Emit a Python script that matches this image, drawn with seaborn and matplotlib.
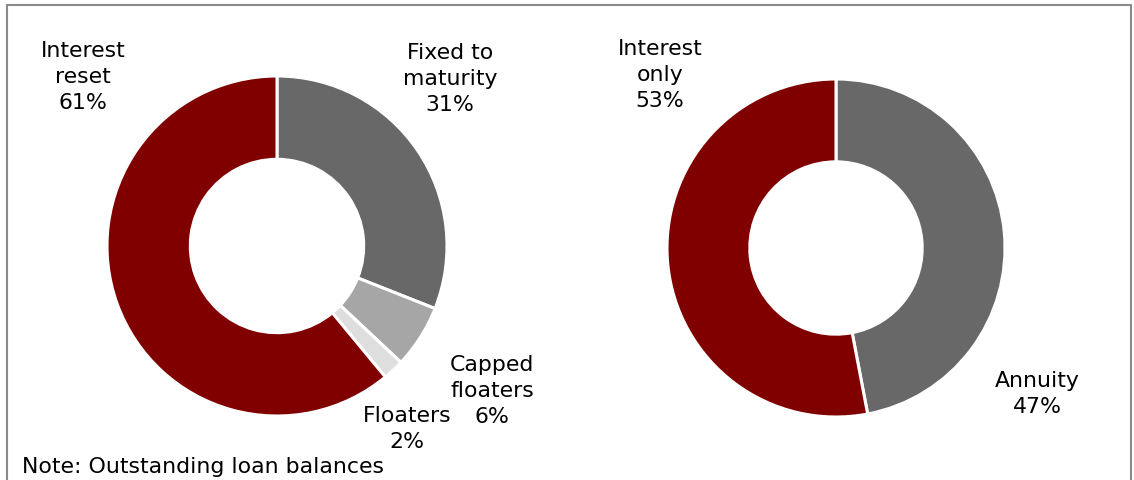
import matplotlib
matplotlib.use("Agg")
import matplotlib.pyplot as plt
import seaborn as sns
from matplotlib.lines import Line2D

sns.set_theme(style="white")
plt.rcParams['font.family'] = ['DejaVu Sans']

# left donut: loan type by interest rate
rate_labels = ["Fixed to\nmaturity", "Capped\nfloaters", "Floaters", "Interest\nreset"]
rate_values = [31, 6, 2, 61]
rate_colors = ["#686868", "#a6a6a6", "#dedede", "#800000"]

# right donut: repayment profile
repay_labels = ["Annuity", "Interest\nonly"]
repay_values = [47, 53]
repay_colors = ["#686868", "#800000"]

note = "Note: Outstanding loan balances"

W, H = 1134, 481
fig = plt.figure(figsize=(W / 100, H / 100), dpi=100)
fig.patch.set_facecolor("white")


def donut_axes(cx, cy, r):
    # axes in pixel coordinates (top-left origin) converted to figure fractions
    return fig.add_axes([(cx - r) / W, (H - cy - r) / H, 2 * r / W, 2 * r / H])


def draw_donut(ax, values, colors):
    ax.pie(values, colors=colors, startangle=90, counterclock=False,
           radius=1.0, wedgeprops=dict(width=0.49, edgecolor="white", linewidth=2.2))
    ax.set_xlim(-1, 1)
    ax.set_ylim(-1, 1)
    ax.set_aspect("equal")
    ax.axis("off")


ax1 = donut_axes(277, 247, 170)
draw_donut(ax1, rate_values, rate_colors)

ax2 = donut_axes(836, 249, 169)
draw_donut(ax2, repay_values, repay_colors)


def px_text(x, y, s, **kw):
    fig.text(x / W, 1 - y / H, s, fontsize=15.8, color="black",
             linespacing=1.36, **kw)


# label positions (pixel centres)
rate_pos = [(450, 79), (492, 391), (407, 429), (83, 77)]
for (x, y), lab, v in zip(rate_pos, rate_labels, rate_values):
    px_text(x, y, f"{lab}\n{v}%", ha="center", va="center")

repay_pos = [(1037, 394), (660, 75)]
for (x, y), lab, v in zip(repay_pos, repay_labels, repay_values):
    px_text(x, y, f"{lab}\n{v}%", ha="center", va="center")

px_text(22, 467, note, ha="left", va="center")

# grey frame (open at the bottom)
frame_kw = dict(color="#8a8a8a", linewidth=1.5, transform=fig.transFigure)
fig.add_artist(Line2D([7 / W, 7 / W], [0, 1 - 6 / H], **frame_kw))
fig.add_artist(Line2D([7 / W, 1131 / W], [1 - 6 / H, 1 - 6 / H], **frame_kw))
fig.add_artist(Line2D([1131 / W, 1131 / W], [0, 1 - 6 / H], **frame_kw))

fig.savefig("out.png", dpi=100)
